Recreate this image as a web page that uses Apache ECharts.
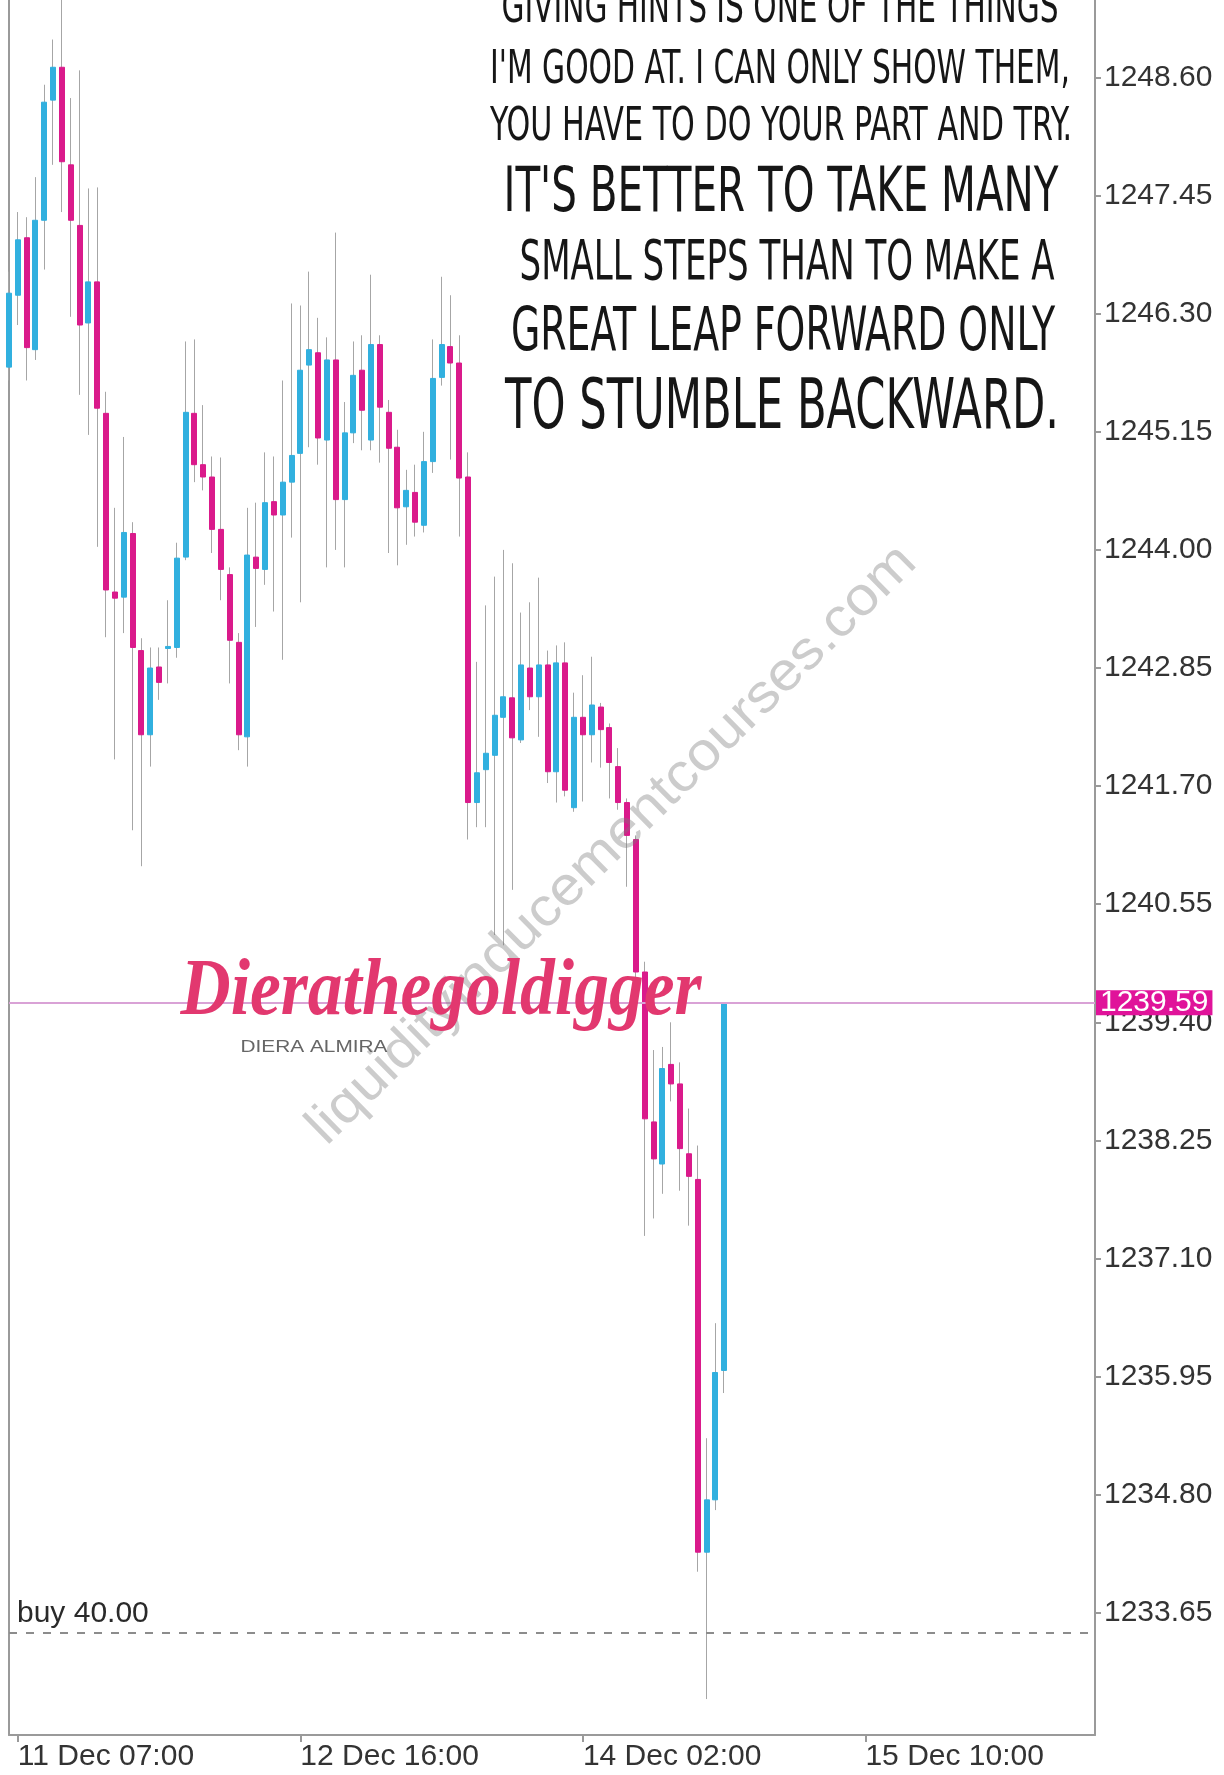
<!DOCTYPE html>
<html>
<head>
<meta charset="utf-8">
<script src="https://cdn.jsdelivr.net/npm/echarts@6.0.0/dist/echarts.min.js"></script>
<style>
  html, body { margin: 0; padding: 0; background: #fff; }
  #main { width: 1224px; height: 1775px; }
</style>
</head>
<body>
<div id="main"></div>
<script>
// hourly slots on the time axis (bars + empty future area)
var slotCount = 124;
var xTickIndex = [1, 33, 65, 97];
var xTickLabels = ['11 Dec 07:00', '12 Dec 16:00', '14 Dec 02:00', '15 Dec 10:00'];
var yTickValues = [1233.65, 1234.80, 1235.95, 1237.10, 1238.25, 1239.40, 1240.55,
  1241.70, 1242.85, 1244.00, 1245.15, 1246.30, 1247.45, 1248.60];

var opens = [1245.78, 1246.48, 1247.04, 1245.95, 1247.21, 1248.38, 1248.70, 1247.75, 1247.16, 1246.21,
  1246.61, 1245.33, 1243.59, 1243.54, 1244.16, 1243.02, 1242.20, 1242.86, 1243.04, 1243.05,
  1243.93, 1245.33, 1244.83, 1244.71, 1244.20, 1243.76, 1243.10, 1242.18, 1243.93, 1243.81,
  1244.47, 1244.34, 1244.66, 1244.94, 1245.80, 1245.92, 1245.07, 1245.85, 1244.49, 1245.14,
  1245.75, 1245.07, 1246.00, 1245.34, 1245.00, 1244.42, 1244.56, 1244.24, 1244.86, 1245.68,
  1245.98, 1245.82, 1244.71, 1241.54, 1241.86, 1242.00, 1242.37, 1242.56, 1242.15, 1242.85,
  1242.57, 1242.88, 1241.84, 1242.90, 1241.49, 1242.37, 1242.20, 1242.47, 1242.27, 1241.89,
  1241.54, 1241.18, 1239.89, 1238.43, 1238.02, 1238.99, 1238.80, 1238.12, 1237.87, 1234.24,
  1234.75, 1236.01];
var closes = [1246.50, 1247.02, 1245.97, 1247.21, 1248.36, 1248.70, 1247.78, 1247.21, 1246.19, 1246.61,
  1245.38, 1243.61, 1243.53, 1244.17, 1243.05, 1242.20, 1242.85, 1242.71, 1243.06, 1243.92,
  1245.34, 1244.83, 1244.71, 1244.20, 1243.81, 1243.12, 1242.20, 1243.95, 1243.82, 1244.46,
  1244.34, 1244.66, 1244.92, 1245.75, 1245.95, 1245.09, 1245.85, 1244.49, 1245.14, 1245.70,
  1245.36, 1246.00, 1245.39, 1244.99, 1244.41, 1244.58, 1244.27, 1244.86, 1245.67, 1246.00,
  1245.82, 1244.70, 1241.54, 1241.83, 1242.02, 1242.39, 1242.57, 1242.17, 1242.88, 1242.57,
  1242.88, 1241.84, 1242.90, 1241.66, 1242.37, 1242.20, 1242.49, 1242.25, 1241.93, 1241.54,
  1241.22, 1239.89, 1238.46, 1238.07, 1238.95, 1238.80, 1238.17, 1237.90, 1234.24, 1234.75,
  1235.99, 1239.59];
var lows = [1245.65, 1246.19, 1245.65, 1245.85, 1246.73, 1247.75, 1247.29, 1246.27, 1245.51, 1245.12,
  1244.03, 1243.15, 1241.96, 1243.19, 1241.27, 1240.92, 1241.89, 1242.54, 1242.70, 1242.95,
  1243.90, 1244.66, 1244.58, 1243.97, 1243.51, 1242.70, 1242.05, 1241.89, 1243.25, 1243.66,
  1243.40, 1242.93, 1244.12, 1243.49, 1245.00, 1244.83, 1243.83, 1244.00, 1243.83, 1245.04,
  1244.97, 1244.97, 1244.85, 1243.97, 1243.85, 1244.05, 1244.13, 1244.17, 1244.75, 1245.60,
  1244.88, 1244.13, 1241.18, 1241.30, 1241.30, 1240.25, 1240.15, 1240.69, 1242.12, 1242.44,
  1242.18, 1241.73, 1241.54, 1241.60, 1241.45, 1241.55, 1241.93, 1241.88, 1241.58, 1241.47,
  1240.72, 1239.76, 1237.32, 1237.49, 1237.73, 1238.63, 1237.76, 1237.42, 1234.05, 1232.81,
  1234.65, 1235.79];
var highs = [1246.71, 1247.29, 1247.24, 1247.63, 1248.53, 1248.97, 1249.50, 1248.40, 1248.67, 1247.52,
  1247.53, 1245.54, 1244.41, 1245.10, 1244.27, 1243.14, 1243.05, 1243.05, 1243.51, 1244.07,
  1246.03, 1246.05, 1245.41, 1244.91, 1244.90, 1243.83, 1243.19, 1244.41, 1244.46, 1244.95,
  1244.91, 1245.65, 1246.40, 1246.38, 1246.71, 1246.26, 1246.07, 1247.09, 1245.44, 1246.03,
  1246.09, 1246.68, 1246.09, 1245.46, 1245.17, 1244.78, 1244.83, 1245.15, 1246.05, 1246.66,
  1246.48, 1246.09, 1244.95, 1242.91, 1243.46, 1243.74, 1244.00, 1243.87, 1243.39, 1243.49,
  1243.73, 1243.02, 1243.07, 1243.10, 1242.61, 1242.78, 1242.96, 1242.51, 1242.31, 1242.07,
  1241.58, 1241.22, 1239.99, 1239.13, 1239.16, 1239.40, 1239.01, 1238.56, 1238.20, 1235.35,
  1236.47, 1239.59];

var lastPrice = 1239.59;
var buyPrice = 1233.46;
var buyText = 'buy 40.00';

var yMin = 1232.46, yMax = 1249.355;
var upColor = '#31b0df', downColor = '#da1a8b', wickColor = '#a6a6a6';

var slots = [];
for (var i = 0; i < slotCount; i++) slots.push(String(i));

var wickData = [], bodyData = [];
for (var k = 0; k < opens.length; k++) {
  wickData.push([opens[k], closes[k], lows[k], highs[k]]);
  bodyData.push([opens[k], closes[k], Math.min(opens[k], closes[k]), Math.max(opens[k], closes[k])]);
}

// fit overlay text to the width it takes in the picture
var mctx = document.createElement('canvas').getContext('2d');
function txt(text, cx, cy, font, width, fill, z, rot) {
  mctx.font = font;
  var s = width / mctx.measureText(text).width;
  return {
    type: 'text', x: cx, y: cy, scaleX: s, rotation: rot || 0, z: z, silent: true,
    style: { text: text, font: font, fill: fill, align: 'center', verticalAlign: 'middle',
      textAlign: 'center', textVerticalAlign: 'middle' }
  };
}
var qf = '"DejaVu Sans Condensed", "Liberation Sans Narrow", sans-serif';

var myChart = echarts.init(document.getElementById('main'));
var option = {
  animation: false,
  backgroundColor: '#fff',
  grid: { left: 9, right: 129, top: 0, bottom: 40 },
  xAxis: {
    type: 'category',
    data: slots,
    boundaryGap: false,
    axisLine: { lineStyle: { color: '#9a9a9a', width: 2 } },
    axisTick: {
      interval: function (i) { return xTickIndex.indexOf(i) >= 0; },
      length: 7, lineStyle: { color: '#9a9a9a', width: 2 }
    },
    axisLabel: {
      interval: function (i) { return xTickIndex.indexOf(i) >= 0; },
      formatter: function (v, i) { return xTickLabels[xTickIndex.indexOf(i)] || ''; },
      align: 'left', fontSize: 30, color: '#333', margin: 7, fontFamily: 'Liberation Sans'
    },
    splitLine: { show: false }
  },
  yAxis: [{
    type: 'value',
    position: 'right',
    min: yMin, max: yMax,
    axisLine: { show: true, lineStyle: { color: '#9a9a9a', width: 2 } },
    axisTick: { show: true, customValues: yTickValues, length: 6, lineStyle: { color: '#9a9a9a', width: 2 } },
    axisLabel: {
      customValues: yTickValues,
      formatter: function (v) { return v.toFixed(2); },
      fontSize: 30, color: '#333', margin: 9, fontFamily: 'Liberation Sans'
    },
    splitLine: { show: false }
  }, {
    type: 'value',
    position: 'left',
    min: yMin, max: yMax,
    axisLine: { show: true, lineStyle: { color: '#9a9a9a', width: 2 } },
    axisTick: { show: false },
    axisLabel: { show: false },
    splitLine: { show: false }
  }],
  series: [{
    name: 'wick',
    type: 'candlestick',
    data: wickData,
    barWidth: 1,
    silent: true,
    itemStyle: { color: wickColor, color0: wickColor, borderColor: wickColor, borderColor0: wickColor, borderWidth: 1 }
  }, {
    name: 'body',
    type: 'candlestick',
    data: bodyData,
    barWidth: 5.5,
    silent: true,
    itemStyle: { color: upColor, color0: downColor, borderColor: upColor, borderColor0: downColor, borderWidth: 1 },
    markLine: {
      silent: true,
      symbol: ['none', 'none'],
      data: [{
        yAxis: lastPrice,
        lineStyle: { color: '#d9a2d6', width: 2, type: 'solid' },
        label: {
          show: true, position: 'end', distance: 1, formatter: lastPrice.toFixed(2),
          backgroundColor: '#e0139a', color: '#fff', fontSize: 30, lineHeight: 25,
          padding: [0, 4], fontFamily: 'Liberation Sans'
        }
      }, {
        yAxis: buyPrice,
        lineStyle: { color: '#8c8c8c', width: 2, type: [8, 9] },
        label: {
          show: true, position: 'insideStartTop', distance: [8, 4], formatter: buyText,
          color: '#2a2a2a', fontSize: 30, fontFamily: 'Liberation Sans'
        }
      }]
    }
  }],
  graphic: [
    txt('GIVING HINTS IS ONE OF THE THINGS', 780, 10, '47px ' + qf, 557, '#161616', 10),
    txt("I'M GOOD AT. I CAN ONLY SHOW THEM,", 780, 71, '47px ' + qf, 580, '#161616', 10),
    txt('YOU HAVE TO DO YOUR PART AND TRY.', 781, 128, '47px ' + qf, 582, '#161616', 10),
    txt("IT'S BETTER TO TAKE MANY", 781, 195, '62px ' + qf, 555, '#161616', 10),
    txt('SMALL STEPS THAN TO MAKE A', 787, 265, '55px ' + qf, 535, '#161616', 10),
    txt('GREAT LEAP FORWARD ONLY', 783, 334, '60px ' + qf, 544, '#161616', 10),
    txt('TO STUMBLE BACKWARD.', 782, 410, '69px ' + qf, 554, '#161616', 10),
    txt('liquidityinducementcourses.com', 612, 845, '54px "Liberation Sans", sans-serif', 830,
      'rgba(120,120,120,0.38)', 20, 44.5 * Math.PI / 180),
    txt('Dierathegoldigger', 441, 993, 'italic bold 80px "Liberation Serif", serif', 521, '#e2386f', 30),
    txt('DIERA ALMIRA', 314, 1047, '17px "Liberation Sans", sans-serif', 147, '#666', 30)
  ]
};
myChart.setOption(option);
</script>
</body>
</html>
